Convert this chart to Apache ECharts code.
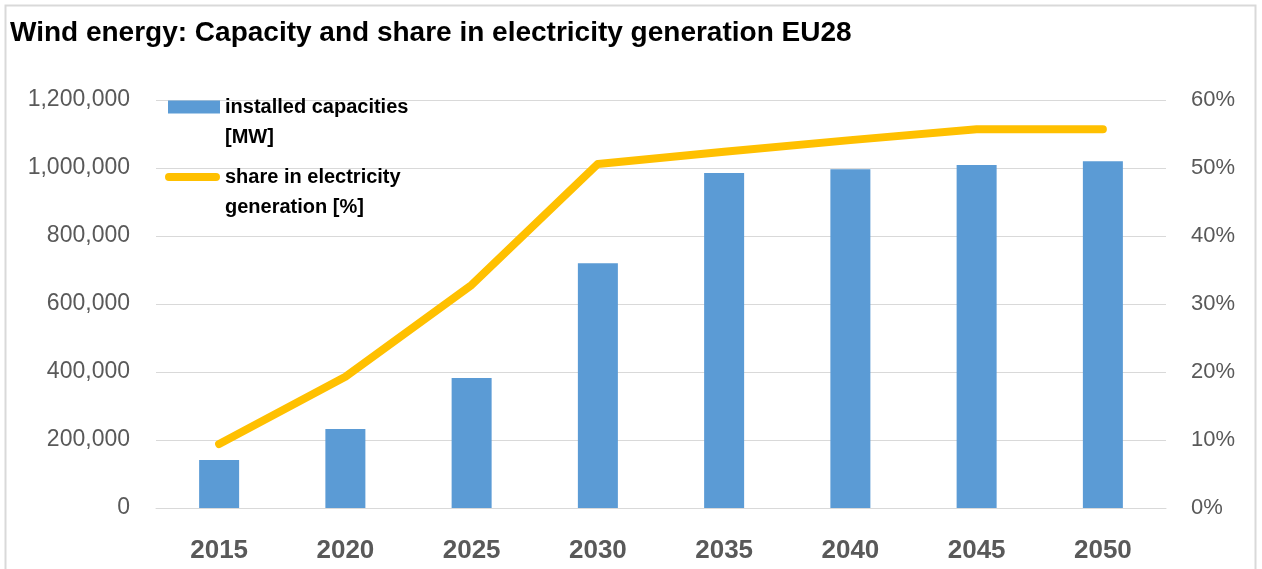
<!DOCTYPE html>
<html>
<head>
<meta charset="utf-8">
<script src="https://cdn.jsdelivr.net/npm/echarts@6/dist/echarts.min.js"></script>
<style>
  html, body { margin: 0; padding: 0; background: #fff; }
  #chart { width: 1262px; height: 569px; }
</style>
</head>
<body>
<div id="chart"></div>
<script>
var years = ['2015', '2020', '2025', '2030', '2035', '2040', '2045', '2050']
var capacityMW = [141000, 232000, 382000, 720000, 985000, 996000, 1009000, 1020000]
var sharePct = [0.094, 0.193, 0.328, 0.506, 0.524, 0.541, 0.557, 0.557]
var capacityName = 'installed capacities\n[MW]'
var shareName = 'share in electricity\ngeneration [%]'

var font = 'Liberation Sans'
var chart = echarts.init(document.getElementById('chart'))

var legendText = {
  color: '#000',
  fontSize: 20,
  fontWeight: 'bold',
  fontFamily: font,
  lineHeight: 30
}

// legend icons sit next to the first text line: the dot at the bottom of each path
// only stretches the icon box so its top part lines up with line one
var barIcon = 'path://M0,0 L52,0 L52,13 L0,13 Z M0,43 L0.01,43 Z'
var lineIcon = 'path://M4,0 L51,0 A4,4 0 0 1 51,8 L4,8 A4,4 0 0 1 4,0 Z M0,38 L0.01,38 Z'

chart.setOption({
  animation: false,
  backgroundColor: '#fff',
  title: {
    text: 'Wind energy: Capacity and share in electricity generation EU28',
    left: 10,
    top: 19,
    padding: 0,
    textStyle: {
      color: '#000',
      fontSize: 28,
      fontWeight: 'bold',
      fontFamily: font
    }
  },
  graphic: [
    {
      type: 'rect',
      left: 3,
      top: 3,
      shape: { width: 1250, height: 580 },
      style: { fill: 'none', stroke: '#d9d9d9', lineWidth: 2 },
      silent: true
    }
  ],
  legend: [
    {
      data: [{ name: capacityName, icon: barIcon }],
      left: 168,
      top: 92,
      padding: 0,
      itemWidth: 52,
      itemHeight: 43,
      selectedMode: false,
      textStyle: legendText
    },
    {
      data: [{ name: shareName, icon: lineIcon }],
      left: 165,
      top: 162,
      padding: 0,
      itemWidth: 55,
      itemHeight: 38,
      selectedMode: false,
      itemStyle: { color: '#ffc000' },
      textStyle: legendText
    }
  ],
  grid: {
    left: 156,
    right: 96,
    top: 100,
    bottom: 61
  },
  xAxis: {
    type: 'category',
    data: years,
    axisTick: { show: false },
    axisLine: { show: true, lineStyle: { color: '#d9d9d9', width: 1 } },
    axisLabel: {
      color: '#595959',
      fontSize: 26,
      fontWeight: 'bold',
      fontFamily: font,
      margin: 30
    }
  },
  yAxis: [
    {
      type: 'value',
      min: 0,
      max: 1200000,
      interval: 200000,
      axisLine: { show: false },
      axisTick: { show: false },
      splitLine: { lineStyle: { color: '#d9d9d9', width: 1 } },
      axisLabel: {
        color: '#595959',
        fontSize: 23,
        fontFamily: font,
        margin: 26,
        formatter: function (v) {
          return v.toLocaleString('en-US')
        }
      }
    },
    {
      type: 'value',
      min: 0,
      max: 0.6,
      interval: 0.1,
      axisLine: { show: false },
      axisTick: { show: false },
      splitLine: { show: false },
      axisLabel: {
        color: '#595959',
        fontSize: 22,
        fontFamily: font,
        margin: 25,
        formatter: function (v) {
          return Math.round(v * 100) + '%'
        }
      }
    }
  ],
  series: [
    {
      name: capacityName,
      type: 'bar',
      data: capacityMW,
      barWidth: 40,
      itemStyle: { color: '#5b9bd5' }
    },
    {
      name: shareName,
      type: 'line',
      yAxisIndex: 1,
      data: sharePct,
      symbol: 'none',
      lineStyle: { color: '#ffc000', width: 8, cap: 'round', join: 'round' },
      itemStyle: { color: '#ffc000' }
    }
  ]
})
</script>
</body>
</html>
